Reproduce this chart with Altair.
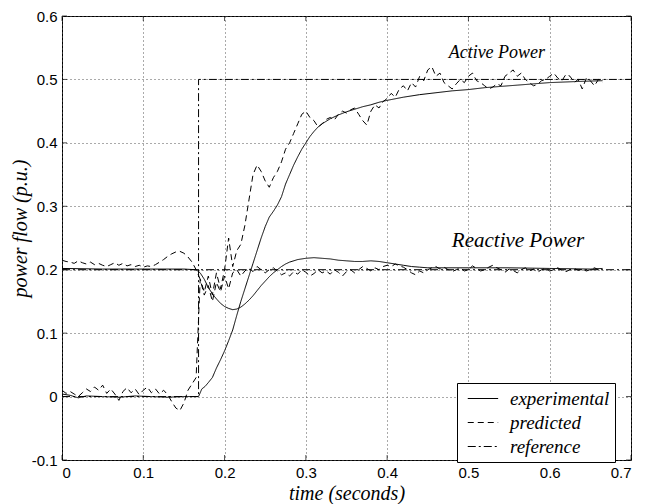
import altair as alt
import pandas as pd

W, H = 569, 444

TICK_X = [0, 0.1, 0.2, 0.3, 0.4, 0.5, 0.6, 0.7]
TICK_Y = [-0.1, 0, 0.1, 0.2, 0.3, 0.4, 0.5, 0.6]

SERIES = ["experimental", "predicted", "reference"]
DASHES = [[1, 0], [6, 4], [8, 3, 2, 3]]

# sampling grid of the predicted traces (every 5 ms)
PRED_T = [round(i * 0.005, 3) for i in range(134)]

PRED_P = [
    0.010, 0.005, 0.008, 0.004, 0.000, 0.006, 0.012, 0.008, 0.015, 0.010,
    0.018, 0.005, 0.012, 0.004, -0.006, 0.008, 0.014, 0.006, 0.012, 0.003,
    0.010, 0.015, 0.006, 0.012, 0.004, 0.010, 0.003, -0.008, -0.018, -0.022,
    -0.010, 0.010, 0.020, 0.030, 0.185, 0.165, 0.190, 0.160, 0.195, 0.170,
    0.200, 0.250, 0.205, 0.230, 0.240, 0.270, 0.310, 0.350, 0.365, 0.355,
    0.340, 0.330, 0.345, 0.355, 0.370, 0.390, 0.400, 0.415, 0.430, 0.445,
    0.450, 0.440, 0.435, 0.425, 0.430, 0.437, 0.440, 0.436, 0.445, 0.450,
    0.447, 0.452, 0.455, 0.445, 0.435, 0.428, 0.450, 0.460, 0.455, 0.465,
    0.470, 0.478, 0.472, 0.485, 0.490, 0.482, 0.495, 0.488, 0.505, 0.498,
    0.515, 0.520, 0.505, 0.510, 0.495, 0.490, 0.485, 0.493, 0.500, 0.495,
    0.505, 0.510, 0.498, 0.495, 0.490, 0.485, 0.488, 0.493, 0.490, 0.505,
    0.510, 0.515, 0.505, 0.510, 0.500, 0.495, 0.490, 0.492, 0.498, 0.500,
    0.505, 0.510, 0.502, 0.498, 0.508, 0.505, 0.495, 0.500, 0.485, 0.502,
    0.498, 0.490, 0.500, 0.495,
]

PRED_Q = [
    0.215, 0.213, 0.212, 0.210, 0.214, 0.211, 0.209, 0.212, 0.208, 0.210,
    0.207, 0.205, 0.208, 0.211, 0.207, 0.210, 0.206, 0.208, 0.205, 0.207,
    0.204, 0.206, 0.205, 0.208, 0.212, 0.216, 0.221, 0.225, 0.228, 0.229,
    0.226, 0.220, 0.212, 0.200, 0.185, 0.160, 0.175, 0.150, 0.180, 0.165,
    0.190, 0.170, 0.195, 0.200, 0.190, 0.198, 0.203, 0.197, 0.205, 0.200,
    0.195, 0.200, 0.203, 0.198, 0.192, 0.195, 0.190, 0.197, 0.193, 0.200,
    0.196, 0.190, 0.194, 0.200, 0.195, 0.198, 0.193, 0.200, 0.196, 0.190,
    0.197, 0.200, 0.195, 0.200, 0.205, 0.202, 0.198, 0.203, 0.200, 0.205,
    0.207, 0.205, 0.209, 0.206, 0.204, 0.200, 0.195, 0.192, 0.198, 0.195,
    0.200, 0.203, 0.205, 0.201, 0.204, 0.200, 0.197, 0.200, 0.203, 0.198,
    0.200, 0.206, 0.202, 0.198, 0.200, 0.204, 0.207, 0.203, 0.200, 0.196,
    0.201, 0.199, 0.195, 0.200, 0.203, 0.198, 0.201, 0.196, 0.200, 0.202,
    0.198, 0.200, 0.203, 0.199, 0.197, 0.200, 0.202, 0.199, 0.201, 0.198,
    0.200, 0.203, 0.200, 0.201,
]

EXP_P_T = [0, 0.01, 0.02, 0.03, 0.05, 0.07, 0.09, 0.11, 0.13, 0.15,
           0.165, 0.168, 0.172, 0.176, 0.18, 0.185, 0.19, 0.195, 0.2, 0.205,
           0.21, 0.215, 0.22, 0.225, 0.23, 0.235, 0.24, 0.245, 0.25, 0.255,
           0.26, 0.265, 0.27, 0.275, 0.28, 0.285, 0.29, 0.295, 0.3, 0.305,
           0.31, 0.315, 0.32, 0.33, 0.34, 0.35, 0.36, 0.37, 0.38, 0.39,
           0.4, 0.42, 0.44, 0.46, 0.48, 0.5, 0.52, 0.54, 0.56, 0.58,
           0.6, 0.62, 0.64, 0.665]
EXP_P = [0.004, 0.002, -0.002, 0.001, 0.0, -0.001, 0.001, 0.0, -0.001, 0.0,
         0.0, 0.0, 0.012, 0.016, 0.022, 0.03, 0.045, 0.058, 0.072, 0.088,
         0.105, 0.128, 0.15, 0.17, 0.19, 0.21, 0.23, 0.25, 0.268, 0.283,
         0.292, 0.302, 0.315, 0.335, 0.35, 0.365, 0.378, 0.39, 0.40, 0.41,
         0.418, 0.425, 0.43, 0.438, 0.444, 0.449, 0.453, 0.457, 0.46, 0.464,
         0.467, 0.472, 0.476, 0.479, 0.482, 0.484, 0.487, 0.489, 0.491, 0.493,
         0.495, 0.496, 0.497, 0.498]

EXP_Q_T = [0, 0.05, 0.1, 0.15, 0.165, 0.17, 0.175, 0.18, 0.185, 0.19,
           0.195, 0.2, 0.205, 0.21, 0.215, 0.22, 0.225, 0.23, 0.235, 0.24,
           0.245, 0.25, 0.255, 0.26, 0.265, 0.27, 0.275, 0.28, 0.29, 0.3,
           0.31, 0.32, 0.33, 0.34, 0.35, 0.36, 0.37, 0.38, 0.39, 0.4,
           0.41, 0.42, 0.43, 0.44, 0.45, 0.5, 0.55, 0.6, 0.65, 0.665]
EXP_Q = [0.202, 0.201, 0.201, 0.201, 0.2, 0.195, 0.185, 0.172, 0.162, 0.154,
         0.147, 0.142, 0.139, 0.137, 0.138, 0.141, 0.146, 0.152, 0.159, 0.167,
         0.175, 0.182, 0.189, 0.195, 0.2, 0.205, 0.209, 0.212, 0.216, 0.218,
         0.219, 0.218, 0.217, 0.215, 0.214, 0.213, 0.213, 0.214, 0.213, 0.211,
         0.209, 0.207, 0.205, 0.204, 0.203, 0.203, 0.203, 0.202, 0.201, 0.202]

REF_P_T = [0, 0.168, 0.168, 0.7]
REF_P = [0, 0, 0.5, 0.5]
REF_Q_T = [0, 0.7]
REF_Q = [0.2, 0.2]

LABELS = ["Active Power", "Reactive Power"]
LABEL_T = [0.535, 0.561]
LABEL_V = [0.534, 0.236]
LABEL_SIZE = [18, 21]

rows = []
def add(series, qty, ts, vs):
    for i, (t, v) in enumerate(zip(ts, vs)):
        rows.append({"t": t, "v": v, "series": series, "qty": qty, "i": i})

add("reference", "P", REF_P_T, REF_P)
add("reference", "Q", REF_Q_T, REF_Q)
add("predicted", "P", PRED_T, PRED_P)
add("predicted", "Q", PRED_T, PRED_Q)
add("experimental", "P", EXP_P_T, EXP_P)
add("experimental", "Q", EXP_Q_T, EXP_Q)
df = pd.DataFrame(rows)

SANS = "Liberation Sans"
SERIF = "Liberation Serif"

xenc = alt.X(
    "t:Q",
    scale=alt.Scale(domain=[0, 0.7], nice=False, zero=False),
    axis=alt.Axis(values=TICK_X, title="time (seconds)",
                  labelExpr="'' + round(datum.value * 10) / 10"),
)
yenc = alt.Y(
    "v:Q",
    scale=alt.Scale(domain=[-0.1, 0.6], nice=False, zero=False),
    axis=alt.Axis(values=TICK_Y, title="power flow (p.u.)", titleY=212,
                  labelExpr="'' + round(datum.value * 10) / 10"),
)

lines = alt.Chart(df).mark_line(strokeWidth=1, color="black").encode(
    x=xenc,
    y=yenc,
    detail="qty:N",
    order="i:Q",
    strokeDash=alt.StrokeDash(
        "series:N",
        scale=alt.Scale(domain=SERIES, range=DASHES),
        legend=alt.Legend(
            title=None, orient="none", legendX=395, legendY=367,
            symbolType="M-0.5,0H2.7", symbolSize=361, symbolStrokeWidth=1.2,
            symbolStrokeColor="black",
            labelFont=SERIF, labelFontStyle="italic", labelFontSize=19,
            labelColor="black", labelOffset=27,
            strokeColor="black", fillColor="white", padding=5, rowPadding=3,
        ),
    ),
)

xt = pd.DataFrame({"t": TICK_X})
yt = pd.DataFrame({"v": TICK_Y})

tick_bottom = alt.Chart(xt).mark_tick(orient="vertical", size=5, thickness=1, color="black").encode(
    x=xenc, y=alt.value(H - 2.5))
tick_top = alt.Chart(xt).mark_tick(orient="vertical", size=5, thickness=1, color="black").encode(
    x=xenc, y=alt.value(2.5))
tick_left = alt.Chart(yt).mark_tick(orient="horizontal", size=5, thickness=1, color="black").encode(
    y=yenc, x=alt.value(2.5))
tick_right = alt.Chart(yt).mark_tick(orient="horizontal", size=5, thickness=1, color="black").encode(
    y=yenc, x=alt.value(W - 2.5))

ann = pd.DataFrame({"t": LABEL_T, "v": LABEL_V, "label": LABELS, "size": LABEL_SIZE})
texts = alt.Chart(ann).mark_text(font=SERIF, fontStyle="italic", color="black",
                                 align="center", baseline="alphabetic").encode(
    x=xenc, y=yenc, text="label:N",
    size=alt.Size("size:Q", scale=None, legend=None),
)

chart = alt.layer(lines, texts, tick_bottom, tick_top, tick_left, tick_right).properties(
    width=W, height=H,
    autosize=alt.AutoSizeParams(type="none"),
    padding={"left": 54, "top": 8, "right": 9, "bottom": 44},
).configure_view(
    stroke="black", strokeWidth=1
).configure_axis(
    grid=True, gridDash=[1, 3], gridColor="#555", gridWidth=1, gridOpacity=1,
    domain=False, ticks=False,
    labelFont=SANS, labelFontSize=15, labelColor="black", labelPadding=5,
    titleFont=SERIF, titleFontStyle="italic", titleFontWeight="normal",
    titleFontSize=20, titleColor="black",
).configure_axisX(titlePadding=3).configure_axisY(titlePadding=1)

chart.save("out.html", embed_options={"renderer": "svg", "actions": False})
